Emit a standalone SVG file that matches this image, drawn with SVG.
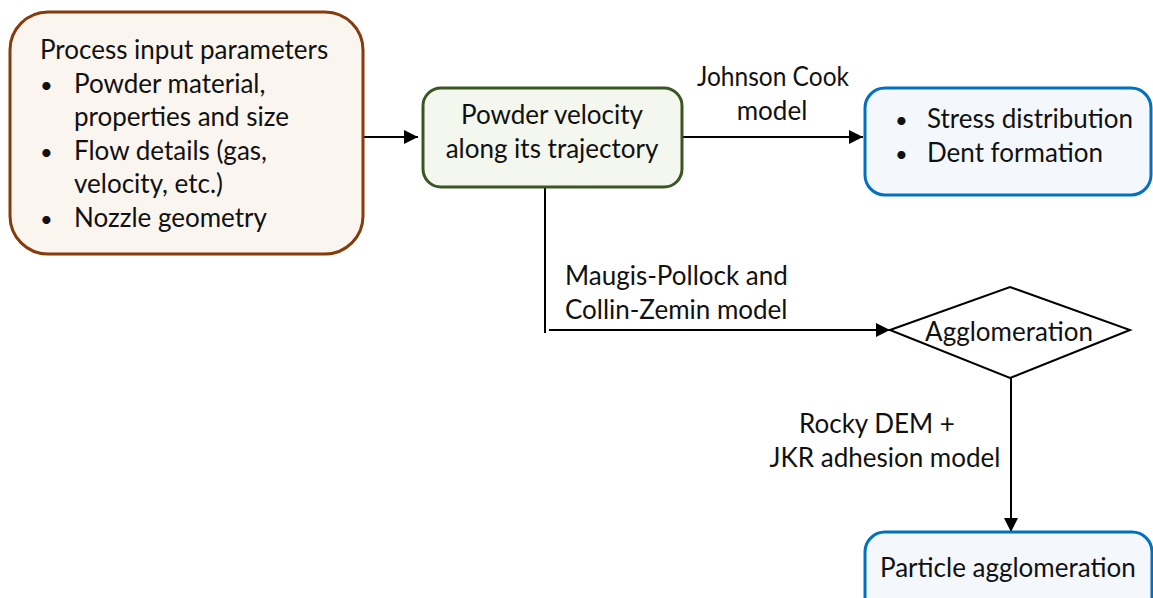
<svg xmlns="http://www.w3.org/2000/svg" width="1153" height="598" viewBox="0 0 1153 598">
<defs>
<style>
text{font-family:Lato,"Open Sans","Liberation Sans",sans-serif;font-size:26px;fill:#111}
.c{text-anchor:middle}
.b{font-size:22px}
.edge{stroke:#000;stroke-width:2;fill:none}
</style>
<marker id="ah" viewBox="0 0 10 10" refX="10" refY="5" markerWidth="14" markerHeight="14" markerUnits="userSpaceOnUse" orient="auto">
<path d="M0,0 L10,5 L0,10 z" fill="#000"/>
</marker>
</defs>
<rect width="1153" height="598" fill="#fff"/>
<g id="connectors">
<line class="edge" x1="363" y1="137" x2="418" y2="137" marker-end="url(#ah)"/>
<line class="edge" x1="682" y1="137" x2="863" y2="137" marker-end="url(#ah)"/>
<line class="edge" x1="545" y1="187" x2="545" y2="333"/>
<line class="edge" x1="549" y1="330" x2="890" y2="330" marker-end="url(#ah)"/>
<line class="edge" x1="1011" y1="378" x2="1011" y2="532" stroke-width="1.5" marker-end="url(#ah)"/>
<text x="773" y="86" class="c" textLength="152" lengthAdjust="spacingAndGlyphs">Johnson Cook</text>
<text x="772" y="120" class="c">model</text>
<text x="565" y="285">Maugis-Pollock and</text>
<text x="565" y="319">Collin-Zemin model</text>
<text x="877" y="433" class="c">Rocky DEM +</text>
<text x="885" y="467" class="c">JKR adhesion model</text>
</g>
<g id="input">
<rect x="10" y="12" width="353" height="242" rx="38" fill="#FBF5F0" stroke="#843C0C" stroke-width="3"/>
<text x="40" y="59">Process input parameters</text>
<text x="40" y="93" class="b">•</text><text x="74" y="93">Powder material,</text>
<text x="74" y="126">properties and size</text>
<text x="40" y="160" class="b">•</text><text x="74" y="160">Flow details (gas,</text>
<text x="74" y="193">velocity, etc.)</text>
<text x="40" y="227" class="b">•</text><text x="74" y="227">Nozzle geometry</text>
</g>
<g id="velocity">
<rect x="423" y="88" width="259" height="99" rx="18" fill="#F3F7EE" stroke="#385723" stroke-width="3"/>
<text x="552" y="124" class="c">Powder velocity</text>
<text x="552" y="158" class="c">along its trajectory</text>
</g>
<g id="stress">
<rect x="865" y="88" width="286" height="107" rx="20" fill="#F4F8FD" stroke="#0070C0" stroke-width="3"/>
<text x="895" y="128" class="b">•</text><text x="927" y="128">Stress distribution</text>
<text x="895" y="162" class="b">•</text><text x="927" y="162">Dent formation</text>
</g>
<g id="agglomeration">
<polygon points="890,330 1010,287 1130,330 1010,378" fill="#fff" stroke="#000" stroke-width="2"/>
<text x="1009" y="341" class="c">Agglomeration</text>
</g>
<g id="particle">
<rect x="865" y="532" width="287" height="100" rx="20" fill="#F4F8FD" stroke="#0070C0" stroke-width="3"/>
<text x="880" y="577">Particle agglomeration</text>
</g>
</svg>
